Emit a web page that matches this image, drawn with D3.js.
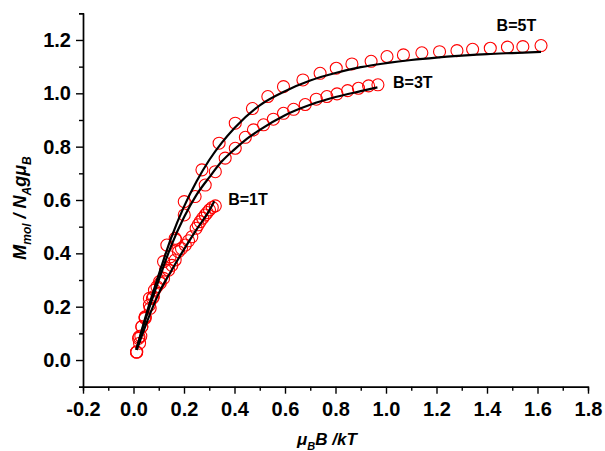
<!DOCTYPE html>
<html>
<head>
<meta charset="utf-8">
<script src="https://cdn.jsdelivr.net/npm/d3@7"></script>
<style>
  body { margin: 0; background: #fff; }
  text { font-family: "Liberation Sans", Arial, sans-serif; }
</style>
</head>
<body>
<div id="chart"></div>
<script>
// measured points, [muB*B/kT, M/NAgmuB]
var pts5T = [[1.614,1.179],[1.542,1.175],[1.481,1.173],[1.413,1.169],[1.343,1.165],[1.281,1.160],
  [1.212,1.156],[1.142,1.152],[1.069,1.144],[1.004,1.138],[0.941,1.120],[0.865,1.110],[0.803,1.094],
  [0.739,1.075],[0.671,1.050],[0.594,1.025],[0.532,0.988],[0.471,0.943],[0.403,0.888],[0.339,0.813],
  [0.271,0.713],[0.201,0.594],[0.165,0.456],[0.132,0.431],[0.119,0.369],[0.083,0.262],[0.063,0.231],
  [0.046,0.160],[0.033,0.125],[0.022,0.087],[0.012,0.030]];
var pts3T = [[0.968,1.032],[0.931,1.028],[0.891,1.019],[0.848,1.010],[0.806,0.998],[0.766,0.988],
  [0.724,0.978],[0.680,0.958],[0.634,0.940],[0.594,0.925],[0.554,0.903],[0.515,0.882],[0.475,0.863],
  [0.443,0.835],[0.403,0.794],[0.363,0.757],[0.324,0.706],[0.284,0.656],[0.244,0.613],[0.201,0.544],
  [0.168,0.450],[0.145,0.387],[0.127,0.337],[0.103,0.294],[0.075,0.231],[0.066,0.194],[0.046,0.156],
  [0.029,0.090],[0.024,0.063],[0.012,0.030]];
var pts1T = [[0.324,0.578],[0.312,0.572],[0.301,0.563],[0.292,0.553],[0.284,0.544],[0.274,0.532],
  [0.264,0.519],[0.256,0.507],[0.248,0.494],[0.231,0.462],[0.218,0.447],[0.205,0.431],[0.190,0.418],
  [0.178,0.406],[0.165,0.375],[0.152,0.355],[0.139,0.337],[0.119,0.306],[0.106,0.288],[0.093,0.275],
  [0.079,0.237],[0.063,0.206],[0.046,0.162],[0.033,0.125],[0.020,0.081],[0.013,0.030]];

// fitted curves
var fit5T = [[0.011,0.038],[0.05,0.17],[0.1,0.32],[0.15,0.46],[0.2,0.575],[0.25,0.67],[0.3,0.75],
  [0.35,0.815],[0.4,0.87],[0.5,0.955],[0.6,1.008],[0.7,1.048],[0.8,1.076],[0.9,1.098],[1.0,1.113],
  [1.1,1.125],[1.2,1.134],[1.3,1.141],[1.4,1.147],[1.5,1.151],[1.614,1.155]];
var fit3T = [[0.011,0.038],[0.05,0.16],[0.1,0.30],[0.15,0.43],[0.2,0.535],[0.25,0.62],[0.3,0.685],
  [0.35,0.745],[0.4,0.79],[0.45,0.83],[0.5,0.863],[0.6,0.918],[0.7,0.957],[0.8,0.986],[0.9,1.008],
  [0.966,1.022]];
var fit1T = [[0.013,0.038],[0.05,0.135],[0.1,0.25],[0.15,0.335],[0.2,0.415],[0.25,0.49],
  [0.3,0.56],[0.32,0.595]];

var xMajor = [-0.2,0,0.2,0.4,0.6,0.8,1.0,1.2,1.4,1.6,1.8];
var xMinor = [-0.1,0.1,0.3,0.5,0.7,0.9,1.1,1.3,1.5,1.7];
var yMajor = [0,0.2,0.4,0.6,0.8,1.0,1.2];
var yMinor = [-0.1,0.1,0.3,0.5,0.7,0.9,1.1,1.3];

var labels = [
  {text: "B=5T", x: 1.438, y: 1.233},
  {text: "B=3T", x: 1.028, y: 1.02},
  {text: "B=1T", x: 0.375, y: 0.58}
];

var W = 605, H = 451;
var svg = d3.select('#chart').append('svg')
    .attr('width', W)
    .attr('height', H);

var x = d3.scaleLinear().domain([-0.2, 1.8]).range([83, 588]);
var y = d3.scaleLinear().domain([-0.1, 1.3]).range([386.7, 13.3]);

var fmt = function(d) { return d.toFixed(1); };

// minor ticks first, then major axes with labels
svg.append('g')
    .attr('transform', 'translate(0,' + y(-0.1) + ')')
    .call(d3.axisBottom(x).tickValues(xMinor).tickSize(4).tickFormat(''));
svg.append('g')
    .attr('transform', 'translate(' + x(-0.2) + ',0)')
    .call(d3.axisLeft(y).tickValues(yMinor).tickSize(4).tickFormat(''));

var gx = svg.append('g')
    .attr('transform', 'translate(0,' + y(-0.1) + ')')
    .call(d3.axisBottom(x).tickValues(xMajor).tickSize(7).tickSizeOuter(0).tickPadding(8).tickFormat(fmt));
var gy = svg.append('g')
    .attr('transform', 'translate(' + x(-0.2) + ',0)')
    .call(d3.axisLeft(y).tickValues(yMajor).tickSize(7).tickSizeOuter(0).tickPadding(5).tickFormat(fmt));

svg.selectAll('.domain, .tick line')
    .attr('stroke', '#000')
    .attr('stroke-width', 1.4);
svg.selectAll('.tick text')
    .attr('fill', '#000')
    .style('font-family', '"Liberation Sans", Arial, sans-serif')
    .style('font-size', '20px')
    .style('font-weight', 'bold');

// data circles
[pts5T, pts3T, pts1T].forEach(function(pts) {
    svg.append('g').selectAll('circle')
        .data(pts)
        .enter().append('circle')
        .attr('cx', function(d) { return x(d[0]); })
        .attr('cy', function(d) { return y(d[1]); })
        .attr('r', 6)
        .attr('fill', 'none')
        .attr('stroke', '#ff0000')
        .attr('stroke-width', 1.1);
});

// fitted lines
var line = d3.line()
    .x(function(d) { return x(d[0]); })
    .y(function(d) { return y(d[1]); })
    .curve(d3.curveMonotoneX);

[fit5T, fit3T, fit1T].forEach(function(f) {
    svg.append('path')
        .datum(f)
        .attr('d', line)
        .attr('fill', 'none')
        .attr('stroke', '#000')
        .attr('stroke-width', 2.2);
});

svg.selectAll('.lbl')
    .data(labels)
    .enter().append('text')
    .attr('class', 'lbl')
    .attr('x', function(d) { return x(d.x); })
    .attr('y', function(d) { return y(d.y); })
    .style('font-size', '16px')
    .style('font-weight', 'bold')
    .text(function(d) { return d.text; });

// axis titles
var xt = svg.append('text')
    .attr('x', 297)
    .attr('y', 445)
    .style('font-size', '17px')
    .style('font-weight', 'bold')
    .style('font-style', 'italic');
xt.append('tspan').text('\u03bc');
xt.append('tspan').attr('dy', 5).style('font-size', '11px').text('B');
xt.append('tspan').attr('dy', -5).text('B /kT');

var yt = svg.append('text')
    .attr('transform', 'translate(26,208) rotate(-90)')
    .attr('text-anchor', 'middle')
    .style('font-size', '18px')
    .style('font-weight', 'bold')
    .style('font-style', 'italic');
yt.append('tspan').text('M');
yt.append('tspan').attr('dy', 5).style('font-size', '12px').text('mol');
yt.append('tspan').attr('dy', -5).text(' / N');
yt.append('tspan').attr('dy', 5).style('font-size', '12px').text('A');
yt.append('tspan').attr('dy', -5).text('g\u03bc');
yt.append('tspan').attr('dy', 5).style('font-size', '12px').text('B');
</script>
</body>
</html>
